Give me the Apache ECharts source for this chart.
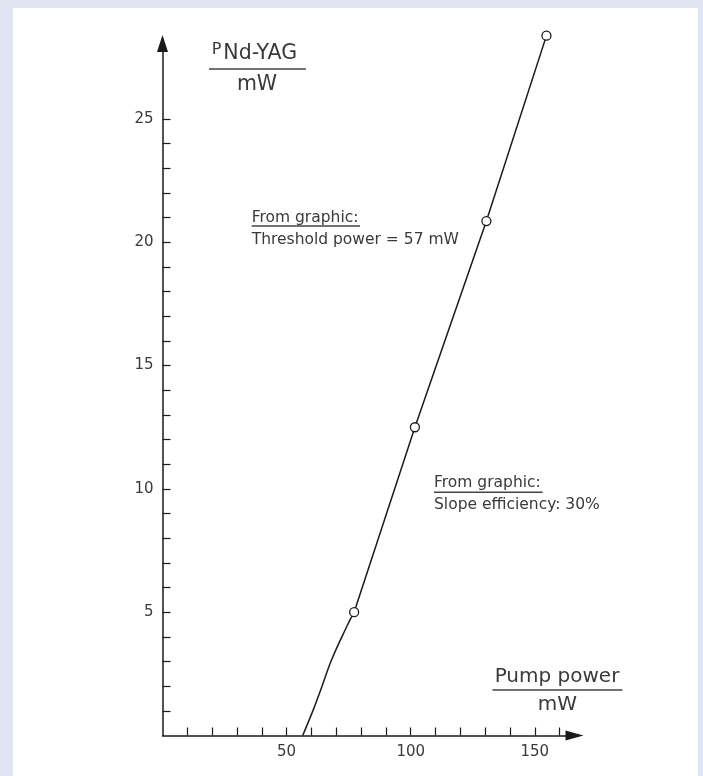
<!DOCTYPE html>
<html>
<head>
<meta charset="utf-8">
<script src="https://cdn.jsdelivr.net/npm/echarts@6/dist/echarts.min.js"></script>
<style>
  html, body { margin: 0; padding: 0; background: #dfe6f1; }
  #panel { position: absolute; left: 13px; top: 8px; width: 685px; height: 768px; background: #ffffff; }
  #chart { position: absolute; left: 0; top: 0; width: 703px; height: 776px; }
</style>
</head>
<body>
<div id="panel"></div>
<div id="chart"></div>
<script>
// Pump power (mW) vs Nd-YAG output power (mW)
const thresholdCurve = [[56.5, 0], [60.7, 1.03], [63.4, 1.75], [68.1, 3.06], [74.2, 4.41], [77.2, 5.0]];
const measuredPoints = [[77.2, 5.0], [101.7, 12.5], [130.5, 20.86], [154.7, 28.38]];
const xTickValues = [10, 20, 30, 40, 50, 60, 70, 80, 90, 100, 110, 120, 130, 140, 150, 160];
const xLabelValues = [50, 100, 150];
const yTickValues = [1, 2, 3, 4, 5, 6, 7, 8, 9, 10, 11, 12, 13, 14, 15, 16, 17, 18, 19, 20, 21, 22, 23, 24, 25];
const yLabelValues = [5, 10, 15, 20, 25];

const FONT = 'DejaVu Sans';
const TXT = '#3a3a3a';
const INK = '#1a1a1a';

function txt(text, x, baseline, size, align) {
  return {
    type: 'text', silent: true,
    x: x, y: baseline - 0.35 * size,
    style: { text: text, fontFamily: FONT, fontSize: size, fill: TXT, align: align || 'left', verticalAlign: 'middle' }
  };
}
function rule(x1, x2, y) {
  return { type: 'line', silent: true, shape: { x1: x1, y1: y, x2: x2, y2: y }, style: { stroke: '#444', lineWidth: 1.4 } };
}

const chart = echarts.init(document.getElementById('chart'), null, { renderer: 'canvas' });
chart.setOption({
  backgroundColor: 'transparent',
  animation: false,
  grid: { left: 162.5, top: 45, right: 128.5, bottom: 40.5, containLabel: false },
  xAxis: {
    type: 'value', min: 0, max: 166,
    axisLine: { show: true, onZero: false, symbol: ['none', 'triangle'], symbolSize: [10, 18], lineStyle: { color: INK, width: 1.5 } },
    axisTick: { show: true, inside: true, length: 8, customValues: xTickValues, lineStyle: { color: INK, width: 1.2 } },
    axisLabel: { customValues: xLabelValues, color: TXT, fontFamily: FONT, fontSize: 15, margin: 9 },
    splitLine: { show: false }
  },
  yAxis: {
    type: 'value', min: 0, max: 28,
    axisLine: { show: true, onZero: false, symbol: ['none', 'triangle'], symbolSize: [11, 17], symbolOffset: [0, 1.5], lineStyle: { color: INK, width: 1.5 } },
    axisTick: { show: true, inside: true, length: 8, customValues: yTickValues, lineStyle: { color: INK, width: 1.2 } },
    axisLabel: { customValues: yLabelValues, color: TXT, fontFamily: FONT, fontSize: 15, margin: 9 },
    splitLine: { show: false }
  },
  series: [
    {
      type: 'line', data: thresholdCurve, smooth: 0.4, showSymbol: false, symbol: 'none', clip: false, z: 2,
      lineStyle: { color: INK, width: 1.5 }
    },
    {
      type: 'line', data: measuredPoints, smooth: false, clip: false, z: 3,
      symbol: 'circle', symbolSize: 9, showSymbol: true,
      itemStyle: { color: '#ffffff', borderColor: INK, borderWidth: 1.3 },
      lineStyle: { color: INK, width: 1.5 }
    }
  ],
  graphic: [
    txt('P', 211.7, 55, 16),
    txt('Nd-YAG', 223.3, 60.7, 20.5),
    rule(209, 306, 69),
    txt('mW', 257, 91.7, 20.5, 'center'),
    txt('Pump power', 557, 683.3, 20, 'center'),
    rule(492.5, 622.5, 690),
    txt('mW', 557.5, 711.7, 20, 'center'),
    txt('From graphic:', 251.7, 223.3, 15.5),
    rule(251.7, 360, 226),
    txt('Threshold power = 57 mW', 251.7, 245, 15.5),
    txt('From graphic:', 434, 488.3, 15.5),
    rule(434, 542.7, 492.3),
    txt('Slope efficiency: 30%', 434, 510.7, 15.5)
  ]
});
</script>
</body>
</html>
